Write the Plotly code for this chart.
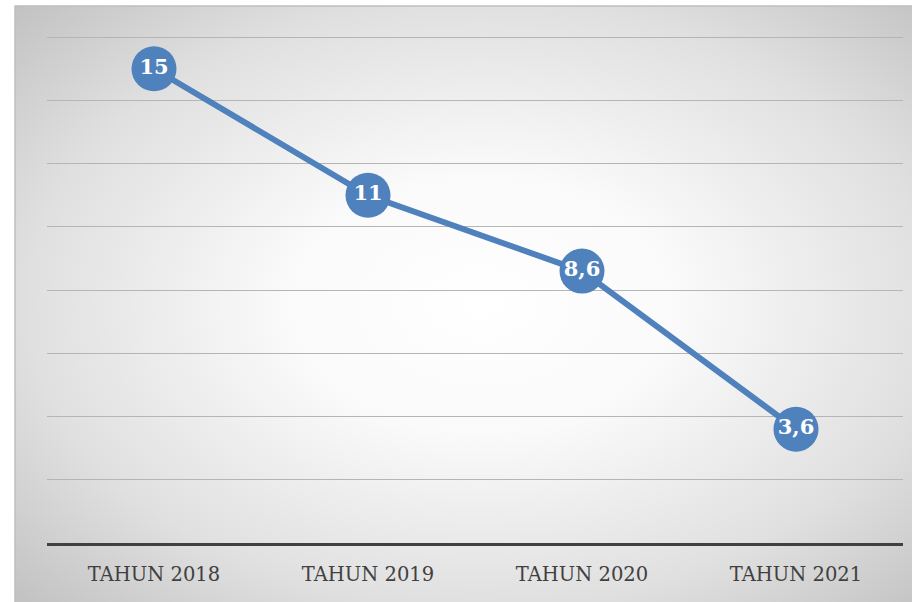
import base64
import plotly.graph_objects as go

categories = ["TAHUN 2018", "TAHUN 2019", "TAHUN 2020", "TAHUN 2021"]
values = [15, 11, 8.6, 3.6]
value_labels = ["15", "11", "8,6", "3,6"]

W, H = 912, 602
L, R, T, B = 47, 9, 34, 59
pw, ph = W - L - R, H - T - B
# outer chart box in pixels
bx0, by0, bx1, by1 = 15, 6, 912, 602
px = lambda x: (x - L) / pw
py = lambda y: (H - B - y) / ph

svg = (
    '<svg xmlns="http://www.w3.org/2000/svg" width="900" height="600" '
    'viewBox="0 0 100 100" preserveAspectRatio="none">'
    '<defs><radialGradient id="g" cx="0.52" cy="0.5" r="0.72">'
    '<stop offset="0" stop-color="#ffffff"/>'
    '<stop offset="0.3" stop-color="#fafafa"/>'
    '<stop offset="0.7" stop-color="#e0e0e0"/>'
    '<stop offset="1" stop-color="#c2c2c2"/>'
    '</radialGradient></defs>'
    '<rect x="0" y="0" width="100" height="100" fill="url(#g)"/></svg>'
)
src = "data:image/svg+xml;base64," + base64.b64encode(svg.encode()).decode()

fig = go.Figure()
fig.add_trace(go.Scatter(
    x=categories, y=values, text=value_labels,
    mode="lines+markers+text",
    line=dict(color="#4f81bd", width=6),
    marker=dict(color="#4f81bd", size=45, line=dict(width=0)),
    textposition="middle center",
    textfont=dict(family="DejaVu Serif", size=21, color="white", weight="bold"),
    hoverinfo="skip", cliponaxis=False,
))

fig.update_layout(
    width=W, height=H,
    margin=dict(l=L, r=R, t=T, b=B),
    paper_bgcolor="white", plot_bgcolor="rgba(0,0,0,0)",
    showlegend=False,
    images=[dict(source=src, xref="paper", yref="paper",
                 x=px(bx0), y=py(by0), sizex=px(bx1) - px(bx0), sizey=py(by0) - py(by1),
                 xanchor="left", yanchor="top", sizing="stretch", layer="below")],
    shapes=[dict(type="rect", xref="paper", yref="paper",
                 x0=px(bx0), x1=px(bx1) + 0.01, y0=py(by1) - 0.01, y1=py(by0),
                 line=dict(color="#bfbfbf", width=1.5), fillcolor="rgba(0,0,0,0)", layer="below")],
    xaxis=dict(
        type="category", range=[-0.5, 3.5],
        showgrid=False, showline=True, linecolor="#404040", linewidth=3,
        ticks="", ticklabelstandoff=12,
        tickfont=dict(family="DejaVu Serif", size=19.5, color="#404040"),
        fixedrange=True,
    ),
    yaxis=dict(
        range=[0, 16.1], tick0=0, dtick=2, showticklabels=False,
        showgrid=True, gridcolor="#b5b5b5", gridwidth=1,
        zeroline=False, showline=False, ticks="", fixedrange=True,
    ),
)

fig.write_html("out.html", config={"displayModeBar": False},
               post_script="document.body.style.margin='0';")
